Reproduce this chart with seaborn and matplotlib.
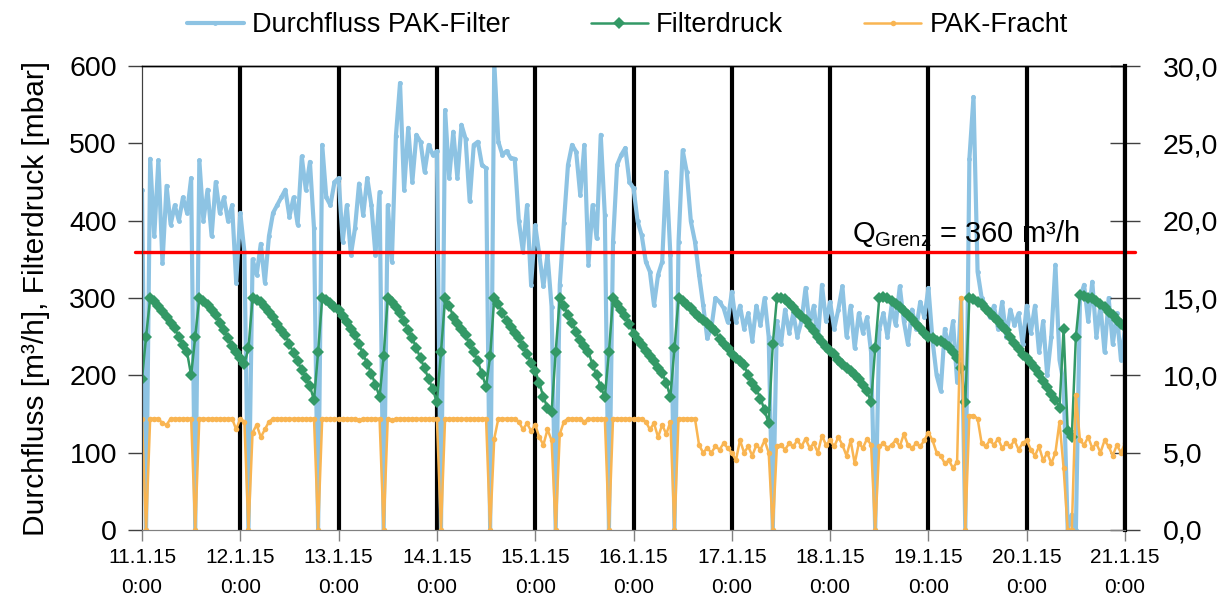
import numpy as np
import matplotlib
matplotlib.use("Agg")
import matplotlib.pyplot as plt
import seaborn as sns

# hourly readings, 11.1.15 0:00 to 21.1.15 0:00
hours = np.arange(241)

# Durchfluss PAK-Filter [m3/h]
durchfluss = (
    [440, 0, 480, 380, 478, 345, 445, 395, 420, 400, 430, 410, 455, 0, 478, 400, 440, 380, 450, 410, 430, 400, 420, 320]
    + [410, 360, 0, 350, 330, 370, 320, 380, 410, 420, 430, 440, 405, 430, 395, 483, 440, 476, 390, 0, 498, 430, 420, 450]
    + [455, 373, 420, 356, 390, 448, 407, 455, 420, 356, 437, 0, 420, 347, 510, 578, 440, 520, 450, 511, 502, 463, 498, 485]
    + [490, 0, 543, 455, 515, 455, 524, 506, 425, 498, 502, 472, 468, 0, 605, 502, 485, 490, 481, 480, 400, 360, 420, 317]
    + [394, 356, 315, 356, 289, 0, 317, 397, 472, 498, 489, 433, 498, 343, 420, 377, 511, 407, 0, 373, 472, 485, 494, 450]
    + [442, 399, 381, 347, 334, 291, 330, 347, 463, 356, 0, 373, 491, 463, 399, 373, 330, 291, 248, 261, 300, 295, 287, 269]
    + [308, 269, 290, 260, 280, 245, 290, 265, 300, 250, 0, 270, 240, 285, 255, 280, 250, 270, 313, 265, 290, 245, 317, 270]
    + [295, 260, 285, 315, 250, 290, 235, 280, 255, 275, 230, 0, 260, 280, 250, 290, 265, 315, 270, 240, 285, 260, 295, 275]
    + [313, 245, 200, 180, 260, 235, 270, 192, 300, 0, 480, 560, 334, 300, 290, 275, 290, 260, 295, 250, 285, 265, 280, 240]
    + [290, 255, 290, 230, 270, 200, 250, 343, 220, 190, 0, 20, 0, 300, 317, 270, 321, 250, 290, 230, 300, 240, 280, 220, 260]
)

# Filterdruck [mbar]
filterdruck = (
    [195, 250, 300, 296, 290, 283, 276, 268, 261, 250, 239, 230, 200, 250, 300, 296, 291, 285, 278, 268, 258, 248, 238, 230]
    + [222, 215, 235, 300, 298, 295, 289, 282, 276, 267, 259, 252, 240, 229, 218, 207, 196, 186, 168, 230, 300, 297, 293, 289]
    + [285, 277, 269, 260, 252, 240, 227, 215, 202, 188, 172, 225, 300, 295, 288, 280, 270, 259, 248, 235, 222, 209, 195, 182]
    + [165, 230, 300, 290, 276, 268, 260, 252, 240, 230, 218, 202, 185, 225, 300, 292, 281, 270, 262, 255, 248, 238, 228, 216]
    + [206, 190, 172, 158, 152, 230, 300, 290, 278, 268, 256, 246, 238, 230, 214, 200, 185, 172, 230, 300, 292, 284, 277, 266]
    + [254, 246, 239, 232, 225, 218, 210, 203, 190, 172, 235, 300, 296, 291, 287, 280, 275, 272, 268, 263, 257, 247, 240, 235]
    + [228, 222, 218, 213, 200, 190, 182, 170, 155, 138, 240, 300, 300, 299, 293, 288, 282, 277, 272, 264, 257, 250, 243, 237]
    + [232, 227, 220, 215, 210, 205, 200, 195, 188, 180, 165, 235, 300, 301, 300, 296, 292, 288, 283, 278, 273, 267, 261, 255]
    + [250, 248, 245, 244, 240, 236, 230, 222, 210, 165, 300, 299, 295, 292, 286, 281, 276, 270, 264, 258, 250, 242, 234, 226]
    + [222, 216, 210, 202, 193, 185, 176, 168, 158, 260, 128, 120, 250, 304, 302, 300, 300, 296, 292, 288, 282, 278, 272, 266, 262]
)

# PAK-Fracht (right axis)
pak_fracht = (
    [7.2, 0, 7.2, 7.2, 7.2, 6.9, 6.8, 7.2, 7.2, 7.2, 7.2, 7.2, 7.2, 0, 7.2, 7.2, 7.2, 7.2, 7.2, 7.2, 7.2, 7.2, 7.2, 6.5]
    + [7.2, 7.0, 0, 6.3, 6.8, 6.0, 6.5, 7.0, 7.2, 7.2, 7.2, 7.2, 7.2, 7.2, 7.2, 7.2, 7.2, 7.2, 7.2, 0, 7.2, 7.2, 7.2, 7.2]
    + [7.2, 7.2, 7.2, 7.2, 7.2, 7.1, 7.2, 7.2, 7.2, 7.2, 7.2, 0, 7.2, 7.1, 7.2, 7.2, 7.2, 7.2, 7.2, 7.2, 7.2, 7.2, 7.2, 7.2]
    + [7.2, 0, 7.2, 7.2, 7.2, 7.2, 7.2, 7.2, 7.2, 7.2, 7.2, 7.2, 7.2, 0, 5.9, 7.2, 7.2, 7.2, 7.2, 7.2, 7.0, 6.5, 6.9, 6.4]
    + [6.8, 6.0, 5.5, 6.5, 5.8, 0, 6.2, 7.0, 7.2, 7.2, 7.2, 7.2, 7.0, 7.2, 7.2, 7.2, 7.2, 7.2, 0, 7.2, 7.2, 7.2, 7.2, 7.2]
    + [7.2, 7.2, 7.2, 7.0, 6.5, 6.9, 6.0, 6.8, 6.2, 7.0, 0, 7.2, 7.2, 7.2, 7.2, 7.2, 5.5, 5.0, 5.3, 5.0, 5.4, 5.2, 5.6, 5.3]
    + [5.0, 4.5, 5.8, 5.0, 5.4, 4.8, 5.5, 5.2, 5.8, 5.0, 0, 5.4, 5.5, 5.2, 5.6, 5.4, 5.8, 5.4, 5.9, 5.3, 5.6, 5.0, 6.1, 5.5]
    + [5.8, 5.4, 6.0, 5.5, 4.8, 5.8, 4.3, 5.6, 5.3, 5.9, 5.5, 0, 5.4, 5.6, 5.3, 5.5, 5.8, 5.4, 6.2, 5.5, 5.3, 5.6, 5.4, 5.8]
    + [6.3, 5.8, 5.0, 4.8, 4.3, 4.5, 4.0, 4.4, 15.0, 0, 7.4, 7.4, 7.2, 5.6, 5.4, 5.8, 5.5, 5.9, 5.3, 5.6, 5.4, 5.8, 5.2, 5.6]
    + [5.8, 5.2, 4.8, 5.4, 4.5, 5.0, 4.3, 5.0, 7.0, 4.0, 0, 0, 8.7, 5.8, 5.5, 6.0, 5.3, 5.6, 5.0, 5.8, 5.4, 4.8, 5.5, 5.0, 5.6]
)

day_ticks = [0, 24, 48, 72, 96, 120, 144, 168, 192, 216, 240]
day_labels = ["11.1.15\n0:00", "12.1.15\n0:00", "13.1.15\n0:00", "14.1.15\n0:00", "15.1.15\n0:00",
              "16.1.15\n0:00", "17.1.15\n0:00", "18.1.15\n0:00", "19.1.15\n0:00", "20.1.15\n0:00",
              "21.1.15\n0:00"]
left_ticks = [0, 100, 200, 300, 400, 500, 600]
right_ticks = [0, 5, 10, 15, 20, 25, 30]
right_labels = ["0,0", "5,0", "10,0", "15,0", "20,0", "25,0", "30,0"]
q_grenz = 360

sns.set_style("white")
plt.rcParams['font.family'] = ['Liberation Sans', 'DejaVu Sans']
plt.rcParams['mathtext.fontset'] = 'custom'
plt.rcParams['mathtext.rm'] = 'Liberation Sans'
plt.rcParams['text.color'] = 'black'
plt.rcParams['axes.labelcolor'] = 'black'
plt.rcParams['xtick.labelcolor'] = 'black'
plt.rcParams['ytick.labelcolor'] = 'black'

fig, ax = plt.subplots(figsize=(12.25, 5.99), dpi=100)
fig.subplots_adjust(left=0.1159, right=0.9184, top=0.8898, bottom=0.1152)
ax2 = ax.twinx()

# day separators
for d in day_ticks[1:]:
    ax.axvline(d, color='black', lw=3, zorder=0.5)

sns.lineplot(x=hours, y=durchfluss, ax=ax, color='#8DC3E3', lw=3, marker='o',
             markersize=3.5, markeredgewidth=0, label='Durchfluss PAK-Filter', legend=False, zorder=2)
sns.lineplot(x=hours, y=filterdruck, ax=ax, color='#339966', lw=1.8, marker='D',
             markersize=6.5, markeredgewidth=0, label='Filterdruck', legend=False, zorder=3)
ax.axhline(q_grenz, xmin=-0.007, xmax=1.01, color='#FF0000', lw=2.4, zorder=4, clip_on=False)
sns.lineplot(x=hours, y=pak_fracht, ax=ax2, color='#F9B552', lw=1.8, marker='o',
             markersize=4, markeredgewidth=0, label='PAK-Fracht', legend=False)

ax.set_xlim(0, 240)
ax.set_ylim(0, 600)
ax2.set_ylim(0, 30)
ax.set_xticks(day_ticks)
ax.set_xticklabels(day_labels, fontsize=15, linespacing=1.75)
ax.set_yticks(left_ticks)
ax.set_yticklabels([str(v) for v in left_ticks], fontsize=20.5)
ax2.set_yticks(right_ticks)
ax2.set_yticklabels(right_labels, fontsize=20.5)
ax.set_xlabel('')
ax.set_ylabel('Durchfluss [m³/h], Filterdruck [mbar]', fontsize=21.5, labelpad=14)

ax.tick_params(axis='y', direction='out', length=10, width=1, color='#404040', pad=8, left=True)
ax.tick_params(axis='x', direction='out', length=8, width=1, color='#808080', pad=5, bottom=True)
ax2.tick_params(axis='y', direction='inout', length=22, width=1, color='#404040', pad=16, right=True)

for a in (ax, ax2):
    a.spines['left'].set_color('#404040')
    a.spines['bottom'].set_color('#808080')
    a.spines['top'].set_color('black')
    a.spines['top'].set_linewidth(1)
ax2.spines['right'].set_color('black')
ax2.spines['right'].set_linewidth(3)

ax2.text(173.3, 18.6, r'Q$_{\mathregular{Grenz}}$ = 360 m³/h', fontsize=21, color='black')

h1, l1 = ax.get_legend_handles_labels()
h2, l2 = ax2.get_legend_handles_labels()
fig.legend(h1 + h2, l1 + l2, loc='center', bbox_to_anchor=(0.512, 0.958), ncol=3,
           frameon=False, fontsize=19.5, handlelength=2.1, columnspacing=3.0, handletextpad=0.3)

fig.savefig('out.png', dpi=100)
